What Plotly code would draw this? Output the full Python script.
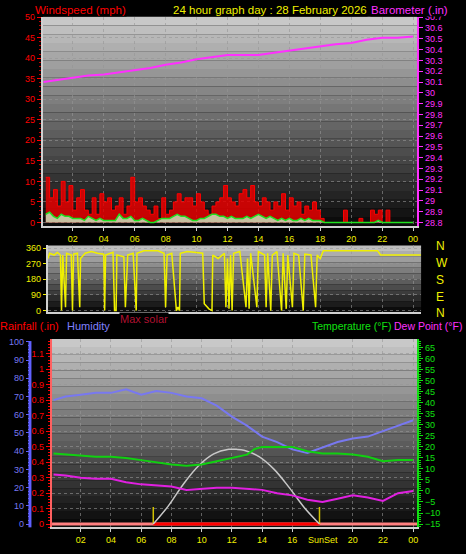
import plotly.graph_objects as go

W, H = 466, 554
def fx(x): return x / W
def fy(y): return 1 - y / H

# ---------------- data ----------------
wind_t = [i * 0.25 for i in range(1, 97)]
wind_gust = [11,6,8,4,10,5,9,3,6,8,3,2,
             6,2,7,5,6,3,4,6,2,4,11,5,
             6,4,3,2,4,1,6,2,3,5,7,5,
             6,6,4,7,5,3,2,4,5,6,9,6,
             5,4,7,8,6,9,5,4,6,5,3,5,
             4,7,3,6,4,5,2,4,3,5,3,1,
             0,0,0,0,0,3,0,0,0,1,0,0,
             3,2,3,0,3,0,0,0,0,0,0,0]
wind_avg = [2,2.5,1.5,1,2,1.5,1.5,1,1,1,0.5,1.5,
            1,0.5,1,0.5,0.5,0.5,0.5,2,1,1,1.5,0.5,
            0.5,1,0.5,0,0,0.5,1,1,1,1.5,2,1.5,
            1.5,1,0.5,0.5,1,1,1.5,2,2,1.5,1.5,1,
            1.5,1,1,1,1.5,1,1.5,2,1.5,1,1.5,1,
            0.5,1,0.5,1,0.5,0.5,1,0.5,1,0.5,0.5,0.5,
            0,0,0,0,0,0,0,0,0,0,0,0,
            0,0,0.5,0,0,0,0,0,0,0,0,0]

baro_t = [0.1,1,2,3,4,5,6,7,8,9,10,11,12,13,14,15,16,17,18,19,20,21,22,23,24]
baro_v = [30.10,30.12,30.14,30.16,30.17,30.19,30.21,30.23,30.26,30.28,30.31,30.33,30.35,30.35,
          30.35,30.37,30.39,30.41,30.43,30.45,30.46,30.49,30.51,30.51,30.52]

dir_t = [0.4,0.5,0.8,1.0,1.2,1.27,1.35,1.53,1.6,1.9,1.98,2.05,2.3,2.45,2.5,2.8,3.2,3.6,4.0,4.06,4.12,
         4.6,4.7,4.8,4.85,5.3,5.4,5.5,5.55,5.9,6.1,6.15,6.6,7.0,7.5,7.9,8.0,8.1,8.4,8.7,8.8,8.9,8.95,
         9.4,10.0,10.4,10.5,10.8,11.0,11.05,11.4,11.8,11.9,12.0,12.1,12.2,12.3,12.4,12.8,13.2,13.3,
         13.4,13.5,13.9,14.0,14.4,14.5,14.6,14.8,14.9,15.2,15.5,15.6,15.8,15.9,16.2,16.3,16.6,16.9,
         17.0,17.4,17.7,17.8,18.0,18.2,21.7,21.9,24.5]
dir_v = [300,330,320,335,320,0,320,20,330,320,0,325,330,20,300,330,340,330,325,0,320,
         335,0,0,320,310,20,180,320,330,0,330,345,345,345,330,20,320,330,0,20,0,330,
         340,335,330,40,10,0,320,300,330,20,300,10,320,0,330,340,20,300,
         10,330,20,340,320,20,330,0,320,340,0,330,10,320,20,330,320,0,
         325,320,20,320,300,345,345,320,320]

hour_t = [0.2,1,2,3,4,5,6,7,8,9,10,11,12,13,13.5,14,15,16,17,18,19,20,21,22,23,24]
temp_v = [17,16.5,16,15.5,15.5,15,14,13,12,11.5,12,13.5,15,16.5,19,20,20,20,18,17,17,16.5,15.5,13.5,14,14]
dew_v = [7.5,7,6,5.5,5.5,4,3,2.5,2,0.5,1,1.5,1.5,1,1,0.5,-1,-2,-4,-5,-3.5,-2,-3,-4.5,-1,0]
hum_v = [68,70,71,72,72,74,71,73,72,70,69,65,59,54,51,48,45,41,39,42,45,47,48,51,54,57]

solar_t = [6.8,7.8,8.8,9.8,10.8,11.8,12.3,12.8,13.8,14.8,15.8,16.8,17.8]
solar_v = [0,10,22,32,38.5,41,41,40.5,37,30,20,9,0]

rain_t = [0.1,24.3]
rain_v = [0,0]
sun_t = [6.8,17.8]

hour_ticks = [2,4,6,8,10,12,14,16,18,20,22,24]
hour_labels = ["02","04","06","08","10","12","14","16","18","20","22","00"]
bottom_ticks = [2,4,6,8,10,12,14,16,20,22,24]
bottom_labels = ["02","04","06","08","10","12","14","16","20","22","00"]
baro_ticks = [round(28.8 + 0.1 * i, 1) for i in range(20)]
baro_labels = ["28.8","28.9","29","29.1","29.2","29.3","29.4","29.5","29.6","29.7","29.8","29.9",
               "30","30.1","30.2","30.3","30.4","30.5","30.6","30.7"]
rain_ticks = [round(0.1 * i, 1) for i in range(13)]
rain_labels = ["0","0.1","0.2","0.3","0.4","0.5","0.6","0.7","0.8","0.9","1","1.1","1.2"]

# ---------------- figure ----------------
FONT = "Liberation Sans"
fig = go.Figure()

fig.add_trace(go.Scatter(x=wind_t, y=wind_gust, mode="lines", line=dict(color="#ff0000", width=1, shape="hv"),
                         fill="tozeroy", fillcolor="rgba(230,0,0,0.85)", xaxis="x", yaxis="y"))
fig.add_trace(go.Scatter(x=wind_t, y=wind_avg, mode="lines", line=dict(color="#20e020", width=1.5),
                         fill="tozeroy", fillcolor="rgba(200,240,200,0.8)", xaxis="x", yaxis="y"))
fig.add_trace(go.Scatter(x=baro_t, y=baro_v, mode="lines", line=dict(color="#ff30ff", width=2), xaxis="x", yaxis="y2"))

fig.add_trace(go.Scatter(x=dir_t, y=dir_v, mode="lines", line=dict(color="#f0f000", width=1.5), xaxis="x2", yaxis="y3"))

fig.add_trace(go.Scatter(x=rain_t, y=rain_v, mode="lines", line=dict(color="#ff8080", width=3), xaxis="x3", yaxis="y5"))
fig.add_trace(go.Scatter(x=sun_t, y=rain_v, mode="lines", line=dict(color="#ff0000", width=3), xaxis="x3", yaxis="y5"))
for st in sun_t:
    fig.add_trace(go.Scatter(x=[st, st], y=[0, 0.11], mode="lines", line=dict(color="#d0c000", width=1.5), xaxis="x3", yaxis="y5"))
fig.add_trace(go.Scatter(x=hour_t, y=hum_v, mode="lines", line=dict(color="#7878f0", width=2), xaxis="x3", yaxis="y4"))
fig.add_trace(go.Scatter(x=solar_t, y=solar_v, mode="lines", line=dict(color="#c8c8c8", width=1.5, shape="spline"), xaxis="x3", yaxis="y4"))
fig.add_trace(go.Scatter(x=hour_t, y=temp_v, mode="lines", line=dict(color="#10d010", width=2), xaxis="x3", yaxis="y6"))
fig.add_trace(go.Scatter(x=hour_t, y=dew_v, mode="lines", line=dict(color="#e020e0", width=2), xaxis="x3", yaxis="y6"))

# gradient backgrounds
shapes = []
def gradient(x0, x1, y0, y1, top, bottom, n=24):
    h = (y1 - y0) / n
    for i in range(n):
        f = i / (n - 1)
        c = int(top + (bottom - top) * f)
        shapes.append(dict(type="rect", xref="paper", yref="paper", layer="below",
                           x0=fx(x0), x1=fx(x1), y0=fy(y0 + i * h), y1=fy(y0 + (i + 1) * h),
                           fillcolor=f"rgb({c},{c},{c})", line=dict(width=0)))
gradient(43, 418, 12, 224, 200, 12)
gradient(48, 422, 244, 312, 190, 12, 12)
gradient(52, 418, 339, 530, 200, 10)
shapes.append(dict(type="line", xref="paper", yref="paper", x0=fx(30), x1=fx(30), y0=fy(341), y1=fy(530),
                   line=dict(color="#6060ff", width=3)))

tf = dict(family=FONT, size=9)
grid = dict(showgrid=True, gridcolor="rgba(150,150,150,0.6)", griddash="dot", gridwidth=1)

layout = dict(
    width=W, height=H, margin=dict(l=0, r=0, t=0, b=0),
    paper_bgcolor="black", plot_bgcolor="rgba(0,0,0,0)", showlegend=False,
    shapes=shapes,
    xaxis=dict(domain=[fx(43), fx(418)], range=[0.065, 24.26], anchor="y", tickvals=hour_ticks, ticktext=hour_labels,
               tickfont=dict(color="#f0f000", **tf), showline=True, linecolor="#d0d0d0", linewidth=2,
               ticks="outside", tickcolor="#d0d0d0", ticklen=3, zeroline=False, **grid),
    yaxis=dict(domain=[fy(224), fy(12)], range=[-0.8, 50.07], tickvals=list(range(0, 51, 5)),
               tickfont=dict(color="#ff0000", **tf), ticks="outside", tickcolor="#ff0000", ticklen=4,
               minor=dict(ticks="outside", tickcolor="#c00000", ticklen=2, dtick=1),
               showline=True, linecolor="#d0d0d0", linewidth=2, zeroline=False, **grid),
    yaxis2=dict(overlaying="y", side="right", anchor="x", range=[28.77, 30.703],
                tickvals=baro_ticks, ticktext=baro_labels,
                tickfont=dict(color="#ff30ff", **tf), ticks="outside", tickcolor="#ff30ff", ticklen=4,
                showline=True, linecolor="#ff30ff", linewidth=2, showgrid=False, zeroline=False),
    xaxis2=dict(domain=[fx(48), fx(422)], range=[0.39, 24.52], anchor="y3", showticklabels=False,
                tickvals=hour_ticks, showline=True, linecolor="#d0d0d0", linewidth=2, zeroline=False, **grid),
    yaxis3=dict(domain=[fy(312), fy(244)], range=[-11, 375], anchor="x2", tickvals=[0, 90, 180, 270, 360],
                tickfont=dict(color="#f0f000", **tf), ticks="outside", tickcolor="#f0f000", ticklen=3,
                showline=True, linecolor="#d0d0d0", linewidth=2, zeroline=False, **grid),
    xaxis3=dict(domain=[fx(52), fx(418)], range=[0.09, 24.26], anchor="y5", tickvals=bottom_ticks, ticktext=bottom_labels,
                tickfont=dict(color="#f0f000", **tf), showline=True, linecolor="#d0d0d0", linewidth=2,
                ticks="outside", tickcolor="#d0d0d0", ticklen=3, zeroline=False, **grid),
    yaxis4=dict(domain=[fy(530), fy(339)], range=[-1.8, 101.5], anchor="free", position=fx(30), overlaying="y5",
                tickvals=list(range(0, 101, 10)), tickfont=dict(color="#7878f0", **tf),
                ticks="outside", tickcolor="#6060ff", ticklen=4,
                minor=dict(ticks="outside", tickcolor="#6060ff", ticklen=2, dtick=2),
                showline=False, showgrid=False, zeroline=False),
    yaxis5=dict(domain=[fy(530), fy(339)], range=[-0.021, 1.195], anchor="x3",
                tickvals=rain_ticks, ticktext=rain_labels,
                tickfont=dict(color="#ff0000", **tf), ticks="outside", tickcolor="#ff0000", ticklen=4,
                minor=dict(ticks="outside", tickcolor="#ff0000", ticklen=2, dtick=0.02),
                showline=True, linecolor="#ff6060", linewidth=2, zeroline=False, **grid),
    yaxis6=dict(overlaying="y5", side="right", anchor="x3", range=[-16.5, 68.9],
                tickvals=list(range(-15, 66, 5)), tickfont=dict(color="#10e010", **tf),
                ticks="outside", tickcolor="#10e010", ticklen=4,
                minor=dict(ticks="outside", tickcolor="#10e010", ticklen=2, dtick=1),
                showline=True, linecolor="#10e010", linewidth=2, showgrid=False, zeroline=False),
)
fig.update_layout(**layout)

def note(text, x, y, color, size=11, xanchor="left"):
    fig.add_annotation(text=text, x=fx(x), y=fy(y), xref="paper", yref="paper", showarrow=False,
                       xanchor=xanchor, yanchor="middle", bgcolor="black", borderpad=0,
                       font=dict(family=FONT, size=size, color=color))

note("Windspeed (mph)", 34, 5, "#ff0000", 11.5)
note("24 hour graph day : 28 February 2026", 172, 5, "#f0f000", 11.5)
note("Barometer (.in)", 371, 5, "#ff30ff", 11.5)
for lab, yy in zip(["N", "W", "S", "E", "N"], [245, 262, 279, 296, 313]):
    note(lab, 436, yy, "#f0f000", 12)
note("Max solar", 119, 319, "#b01030", 11)
note("Rainfall (.in)", -1, 326, "#ff0000", 11)
note("Humidity", 66, 326, "#8080ff", 11)
note("Temperature (°F)", 312, 326, "#10e010", 10.5)
note("Dew Point (°F)", 464, 326, "#ff30ff", 10.5, "right")
note("SunSet", 308, 543, "#f0f000", 9)

fig.write_html("out.html", config={"displayModeBar": False},
               post_script="document.body.style.margin='0';document.body.style.overflow='hidden';document.body.style.background='black';")
